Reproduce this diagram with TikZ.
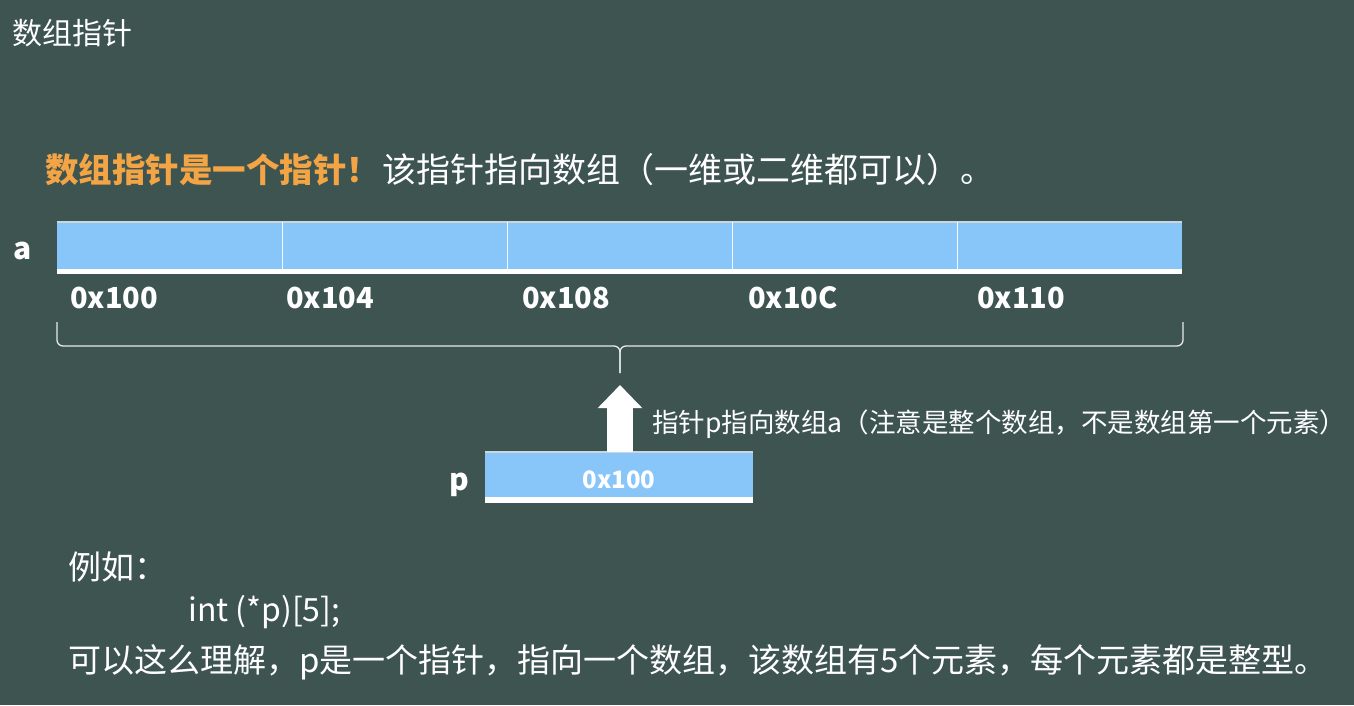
\documentclass[tikz,border=0pt]{standalone}
\usepackage{fontspec}
\setmainfont{Noto Sans CJK SC}
\usetikzlibrary{arrows.meta,calc}
\definecolor{bg}{HTML}{3D5451}
\definecolor{cellblue}{HTML}{88C6FA}
\definecolor{hl}{HTML}{F3A444}
\definecolor{edge}{HTML}{C9D6DE}
\newcommand{\fs}[1]{\fontsize{#1}{#1}\selectfont}
\tikzset{
  txt/.style={text=white, inner sep=0pt, anchor=base west},
  cell/.style={fill=cellblue, draw=none, inner sep=0pt, minimum height=47pt},
  addr/.style={txt, font=\fs{29}\bfseries},
  bracelines/.style={draw=white!88!bg, line width=1.3pt, rounded corners=6pt},
}
\begin{document}
\begin{tikzpicture}[x=1pt,y=-1pt]
\fill[bg] (0,0) rectangle (1354,705);
\useasboundingbox (0,0) rectangle (1354,705);

% title
\node[txt, font=\fs{30}] (title) at (12,44) {数组指针};

% headline
\node[txt, font=\fs{33.5}\bfseries, text=hl] (head1) at (45,182.5) {数组指针是一个指针！};
\node[txt, font=\fs{34}, anchor=base west] (head2) at ($(head1.base east)+(2,0)$) {该指针指向数组（一维或二维都可以）。};

% array a
\node[txt, font=\fs{30}\bfseries] (alab) at (13,259.5) {a};
\foreach \i in {0,...,4} {
  \node[cell, minimum width=225pt] (c\i) at ({57+225*\i+112.5},245.5) {};
}
\fill[white] (c0.south west) rectangle ($(c4.south east)+(0,5)$);
\draw[edge, line width=1.5pt] (c0.north west) -- (c4.north east);
\foreach \i in {0,...,3} {
  \draw[white!90!cellblue, line width=1.4pt] (c\i.north east) -- (c\i.south east);
}

% addresses
\node[addr] (a0) at (70,308.5) {0x100};
\node[addr] (a1) at (286,308.5) {0x104};
\node[addr] (a2) at (522,308.5) {0x108};
\node[addr] (a3) at (748,308.5) {0x10C};
\node[addr] (a4) at (977,308.5) {0x110};

% brace
\coordinate (bl) at (57,322);
\coordinate (br) at (1183,322);
\coordinate (bm) at (620,346);
\coordinate (bt) at (620,373);
\draw[bracelines] (bl) -- (bl |- bm) -- (bm) -- (bt);
\draw[bracelines] (br) -- (br |- bm) -- (bm) -- (bt);

% pointer p
\node[txt, font=\fs{30}\bfseries] (plab) at (449,490) {p};
\node[cell, minimum width=268pt, minimum height=45pt] (pbox) at (619,474.5) {};
\fill[white] (pbox.south west) rectangle ($(pbox.south east)+(0,6)$);
\draw[edge, line width=1.5pt] (pbox.north west) -- (pbox.north east);
\node[txt, font=\fs{24}\bfseries, anchor=base] (pval) at (619,488) {0x100};

% arrow
\coordinate (tip) at (620,385);
\draw[white, line width=26pt, -{Triangle[width=43pt,length=23pt]}] ($(pbox.north)+(1,0)$) -- (tip);
\node[txt, font=\fs{26.5}] (note) at (652,432) {指针p指向数组a（注意是整个数组，不是数组第一个元素）};

% example
\node[txt, font=\fs{33}] (eg) at (68,579.5) {例如：};
\node[txt, font=\fs{32}] (code) at (188,621.5) {int (*p)[5];};
\node[txt, font=\fs{33}] (expl) at (68,672.5) {可以这么理解，p是一个指针，指向一个数组，该数组有5个元素，每个元素都是整型。};
\end{tikzpicture}
\end{document}
